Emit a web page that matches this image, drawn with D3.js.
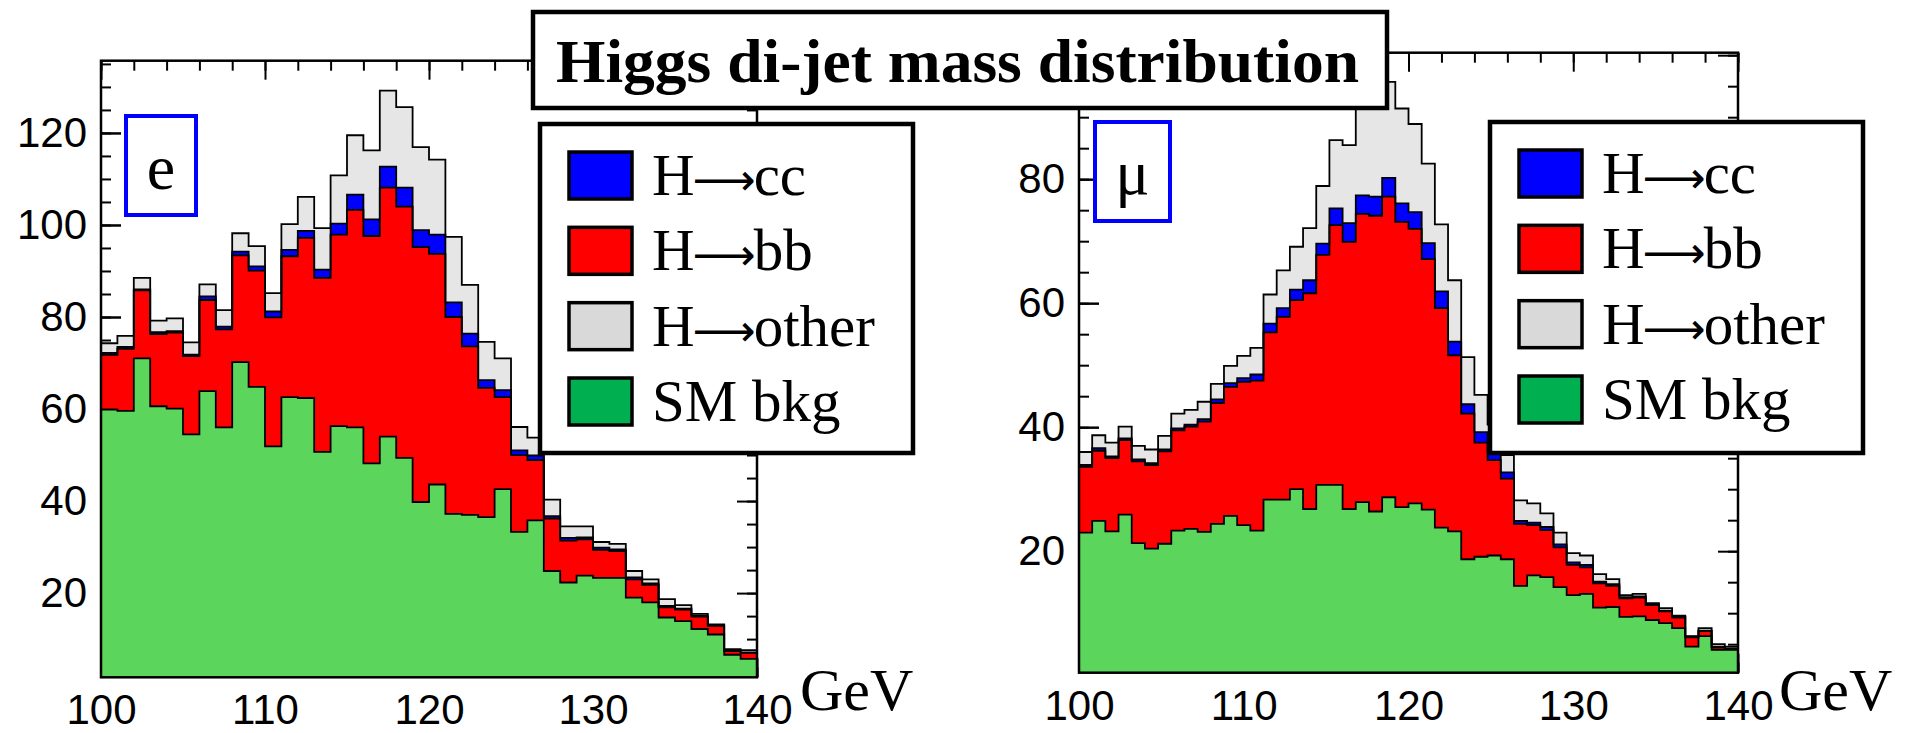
<!DOCTYPE html>
<html>
<head>
<meta charset="utf-8">
<title>Higgs di-jet mass distribution</title>
<script src="https://d3js.org/d3.v7.min.js"></script>
<style>
  body { margin: 0; background: #fff; }
  svg { display: block; }
</style>
</head>
<body>
<script>
// ---- data ----
const massRange = [100, 140];
const seriesKeys = ["bkg", "bb", "cc", "other"];
const xTicks = [100, 110, 120, 130, 140];
const titleText = "Higgs di-jet mass distribution";
const channelLabels = ["e", "\u03bc"];
const legendHead = "H";
const legendArrow = "\u27f6";
const legendTail = ["cc", "bb", "other", null];
const legendPlain = [null, null, null, "SM bkg"];

// electron channel, 40 bins of 1 GeV
const eBkg = [59.9,59.6,71.0,60.6,60.1,54.5,63.9,56.0,70.2,64.8,51.9,62.6,62.4,50.7,56.3,56.0,48.2,54.0,49.4,39.8,
              43.6,37.2,37.0,36.5,42.6,33.3,35.8,24.8,22.3,23.8,23.3,23.3,19.0,18.0,14.7,13.9,12.2,11.0,6.6,5.7];
const eHbb = [11.9,13.5,14.8,15.7,16.5,17.0,19.8,21.3,23.2,25.3,28.0,30.6,34.8,37.8,41.6,47.3,49.4,54.1,54.6,55.4,
              50.1,42.8,36.6,28.1,20.0,16.7,13.1,11.4,9.1,7.9,6.1,5.8,4.0,3.8,2.2,2.5,2.7,1.9,0.8,1.3];
const eHcc = [0.4,0.4,0.2,0.4,0.3,0.3,0.8,0.6,0.8,0.9,1.3,1.4,1.5,1.8,2.4,3.3,3.6,4.6,4.1,3.7,
              4.2,3.2,2.8,1.7,1.5,1.0,1.0,0.5,0.6,0.4,0.5,0.4,0.4,0.3,0.3,0.2,0.2,0.1,0.1,0.1];
const eHother = [2.1,2.4,2.5,2.5,2.8,2.7,2.6,3.6,4.0,4.4,4.0,5.6,7.4,9.0,10.5,12.9,15.0,16.5,17.5,18.0,
                 16.3,14.2,10.6,8.3,6.9,5.1,3.9,3.6,2.5,2.4,1.2,1.2,1.4,0.9,1.5,0.8,0.4,0.2,0.3,0.5];
const eYTicks = [20, 40, 60, 80, 100, 120];

// muon channel, 50 bins of 0.8 GeV
const muBkg = [23.0,24.9,23.2,25.9,21.3,20.4,21.2,23.3,23.6,23.1,24.4,25.7,24.2,23.3,28.3,28.3,30.0,26.8,30.7,30.7,
               26.8,27.9,26.4,28.7,27.1,27.7,26.7,23.8,23.2,18.7,19.1,19.3,18.7,14.4,16.1,15.8,14.2,12.9,13.1,10.9,
               11.0,9.4,9.5,8.9,8.4,7.6,4.6,6.3,4.1,4.1];
const muHbb = [10.6,11.3,11.8,12.0,13.2,13.5,14.9,16.2,16.5,17.8,19.5,20.8,23.1,24.2,27.0,29.5,30.5,34.8,37.1,41.9,
               43.1,46.5,47.7,48.5,46.0,44.3,40.4,35.4,28.4,23.5,18.4,15.4,13.0,10.0,8.1,7.6,6.4,4.9,4.3,3.9,
               3.4,3.0,3.0,2.4,1.9,1.7,1.5,0.8,0.4,0.1];
const muHcc = [0.3,0.4,0.3,0.3,0.3,0.3,0.3,0.3,0.3,0.4,0.6,0.6,0.6,1.0,1.4,1.4,1.7,2.1,1.8,2.7,
               3.0,3.0,3.1,3.0,3.0,2.7,2.6,2.7,2.2,1.5,1.7,1.3,1.0,0.5,0.4,0.5,0.5,0.4,0.4,0.3,
               0.3,0.2,0.2,0.1,0.1,0.1,0.1,0.1,0.1,0.1];
const muHother = [2.1,2.1,2.2,1.9,2.2,2.2,2.2,2.4,2.4,2.8,2.5,2.8,3.6,4.3,4.7,6.1,6.9,8.4,9.3,11.0,
                  12.6,15.1,20.3,15.5,15.3,14.2,12.8,10.8,9.9,7.6,6.0,4.4,2.8,3.3,3.1,2.2,1.9,1.5,1.5,1.2,
                  0.8,0.3,0.4,0.2,0.4,0.2,0.1,0.4,0.4,0.3];
const muYTicks = [20, 40, 60, 80];

// ---- styling ----
const fillColors = { bkg: "#5bd55b", bb: "#ff0000", cc: "#0000ff", other: "#e6e6e6" };
const legendColors = ["#0000ff", "#ff0000", "#d9d9d9", "#00b050"];
const serif = "'Liberation Serif', 'Times New Roman', serif";
const sans = "'Liberation Sans', Arial, sans-serif";

const svg = d3.select("body").append("svg")
    .attr("width", 1910)
    .attr("height", 733);

const panels = [
  { id: "e", series: [eBkg, eHbb, eHcc, eHother], yTicks: eYTicks, yDomain: [1.7, 135.7],
    left: 101, right: 757, top: 60.7, bottom: 677.3, label: channelLabels[0],
    box: [126, 116, 70, 99], labelBase: 189, gev: 800 },
  { id: "mu", series: [muBkg, muHbb, muHcc, muHother], yTicks: muYTicks, yDomain: [0.4, 100.4],
    left: 1079, right: 1738, top: 52.7, bottom: 672.7, label: channelLabels[1],
    box: [1095, 122, 75, 99], labelBase: 194, gev: 1779 }
];

panels.forEach(function(p) {
  const n = p.series[0].length;
  const x = d3.scaleLinear().domain(massRange).range([p.left, p.right]);
  const y = d3.scaleLinear().domain(p.yDomain).range([p.bottom, p.top]);
  const edges = d3.range(n + 1).map(i => massRange[0] + i * (massRange[1] - massRange[0]) / n);

  const rows = d3.range(n).map(i => {
    const r = {};
    seriesKeys.forEach((k, j) => r[k] = p.series[j][i]);
    return r;
  });
  const stacked = d3.stack().keys(seriesKeys)(rows);

  const g = svg.append("g");

  // ticks first, the histograms cover them
  const xMinor = d3.range(massRange[0], massRange[1] + 0.01, 2);
  const yMinor = d3.range(5, p.yDomain[1], 5);
  const yMajorAll = d3.range(20, p.yDomain[1], 20);
  const tickStyle = sel => {
    sel.select(".domain").remove();
    sel.selectAll("line").attr("stroke", "#000").attr("stroke-width", 2);
  };
  const bare = sel => { tickStyle(sel); sel.selectAll("text").remove(); };

  g.append("g").attr("transform", `translate(${p.left},0)`)
      .call(d3.axisLeft(y).tickValues(yMinor).tickSize(-10))
      .call(bare);
  g.append("g").attr("transform", `translate(${p.left},0)`)
      .call(d3.axisLeft(y).tickValues(yMajorAll).tickSize(-20))
      .call(bare);
  g.append("g").attr("transform", `translate(${p.right},0)`)
      .call(d3.axisRight(y).tickValues(yMinor).tickSize(-10))
      .call(bare);
  g.append("g").attr("transform", `translate(${p.right},0)`)
      .call(d3.axisRight(y).tickValues(yMajorAll).tickSize(-20))
      .call(bare);
  g.append("g").attr("transform", `translate(0,${p.top})`)
      .call(d3.axisTop(x).tickValues(xMinor).tickSize(-10))
      .call(bare);
  g.append("g").attr("transform", `translate(0,${p.top})`)
      .call(d3.axisTop(x).tickValues(xTicks).tickSize(-19))
      .call(bare);
  g.append("g").attr("transform", `translate(0,${p.bottom})`)
      .call(d3.axisBottom(x).tickValues(xMinor).tickSize(-10))
      .call(bare);

  const yAxis = g.append("g").attr("transform", `translate(${p.left},0)`)
      .call(d3.axisLeft(y).tickValues(p.yTicks).tickSize(-20).tickPadding(14).tickFormat(d3.format("d")))
      .call(tickStyle);
  const xAxis = g.append("g").attr("transform", `translate(0,${p.bottom})`)
      .call(d3.axisBottom(x).tickValues(xTicks).tickSize(-19).tickPadding(17).tickFormat(d3.format("d")))
      .call(tickStyle);
  [yAxis, xAxis].forEach(a => a.attr("font-family", sans).attr("font-size", 42)
      .selectAll("text").attr("fill", "#000"));

  // stacked histograms
  const clipId = "clip-" + p.id;
  svg.append("clipPath").attr("id", clipId).append("rect")
      .attr("x", p.left).attr("y", p.top)
      .attr("width", p.right - p.left).attr("height", p.bottom - p.top);

  const hist = g.append("g").attr("clip-path", `url(#${clipId})`);
  const area = d3.area().x(d => x(d.x)).y0(d => y(d.y0)).y1(d => y(d.y1));
  const line = d3.line().x(d => x(d.x)).y(d => y(d.y1));

  stacked.forEach(layer => {
    const pts = [];
    layer.forEach((d, i) => {
      pts.push({ x: edges[i], y0: d[0], y1: d[1] });
      pts.push({ x: edges[i + 1], y0: d[0], y1: d[1] });
    });
    hist.append("path").datum(pts)
        .attr("d", area)
        .attr("fill", fillColors[layer.key]);
    layer.pts = pts;
  });
  stacked.forEach(layer => {
    hist.append("path").datum(layer.pts)
        .attr("d", line)
        .attr("fill", "none")
        .attr("stroke", "#000")
        .attr("stroke-width", 1.8);
  });

  // frame
  g.append("rect")
      .attr("x", p.left).attr("y", p.top)
      .attr("width", p.right - p.left).attr("height", p.bottom - p.top)
      .attr("fill", "none").attr("stroke", "#000").attr("stroke-width", 2.5);

  // channel box
  g.append("rect")
      .attr("x", p.box[0]).attr("y", p.box[1])
      .attr("width", p.box[2]).attr("height", p.box[3])
      .attr("fill", "#fff").attr("stroke", "#0000ff").attr("stroke-width", 4);
  g.append("text")
      .attr("x", p.box[0] + p.box[2] / 2).attr("y", p.labelBase)
      .attr("text-anchor", "middle")
      .attr("font-family", serif).attr("font-size", 64)
      .text(p.label);

  // unit
  g.append("text")
      .attr("x", p.gev).attr("y", 710)
      .attr("font-family", serif).attr("font-size", 60)
      .text("GeV");
});

// legends
[[540, 124], [1490, 122]].forEach(function(pos) {
  const lg = svg.append("g").attr("transform", `translate(${pos[0]},${pos[1]})`);
  lg.append("rect")
      .attr("width", 373).attr("height", 453 - pos[1])
      .attr("fill", "#fff").attr("stroke", "#000").attr("stroke-width", 4.5);
  const rowY = d3.scaleLinear().domain([0, 3]).range([28, 254]);
  legendColors.forEach((c, i) => {
    lg.append("rect")
        .attr("x", 29).attr("y", rowY(i))
        .attr("width", 63).attr("height", 47)
        .attr("fill", c).attr("stroke", "#000").attr("stroke-width", 3.5);
    const t = lg.append("text")
        .attr("x", 112).attr("y", rowY(i) + 43)
        .attr("font-family", serif).attr("font-size", 59);
    if (legendPlain[i]) {
      t.text(legendPlain[i]);
    } else {
      t.append("tspan").text(legendHead);
      t.append("tspan").attr("font-family", "'DejaVu Sans', sans-serif")
          .attr("font-size", 44).attr("dx", -2).text(legendArrow);
      t.append("tspan").attr("dx", -2).text(legendTail[i]);
    }
  });
});

// title
svg.append("rect")
    .attr("x", 533).attr("y", 12)
    .attr("width", 854).attr("height", 96)
    .attr("fill", "#fff").attr("stroke", "#000").attr("stroke-width", 4.5);
svg.append("text")
    .attr("x", 556).attr("y", 82)
    .attr("font-family", serif).attr("font-weight", "bold").attr("font-size", 62)
    .attr("textLength", 803).attr("lengthAdjust", "spacingAndGlyphs")
    .text(titleText);
</script>
</body>
</html>
